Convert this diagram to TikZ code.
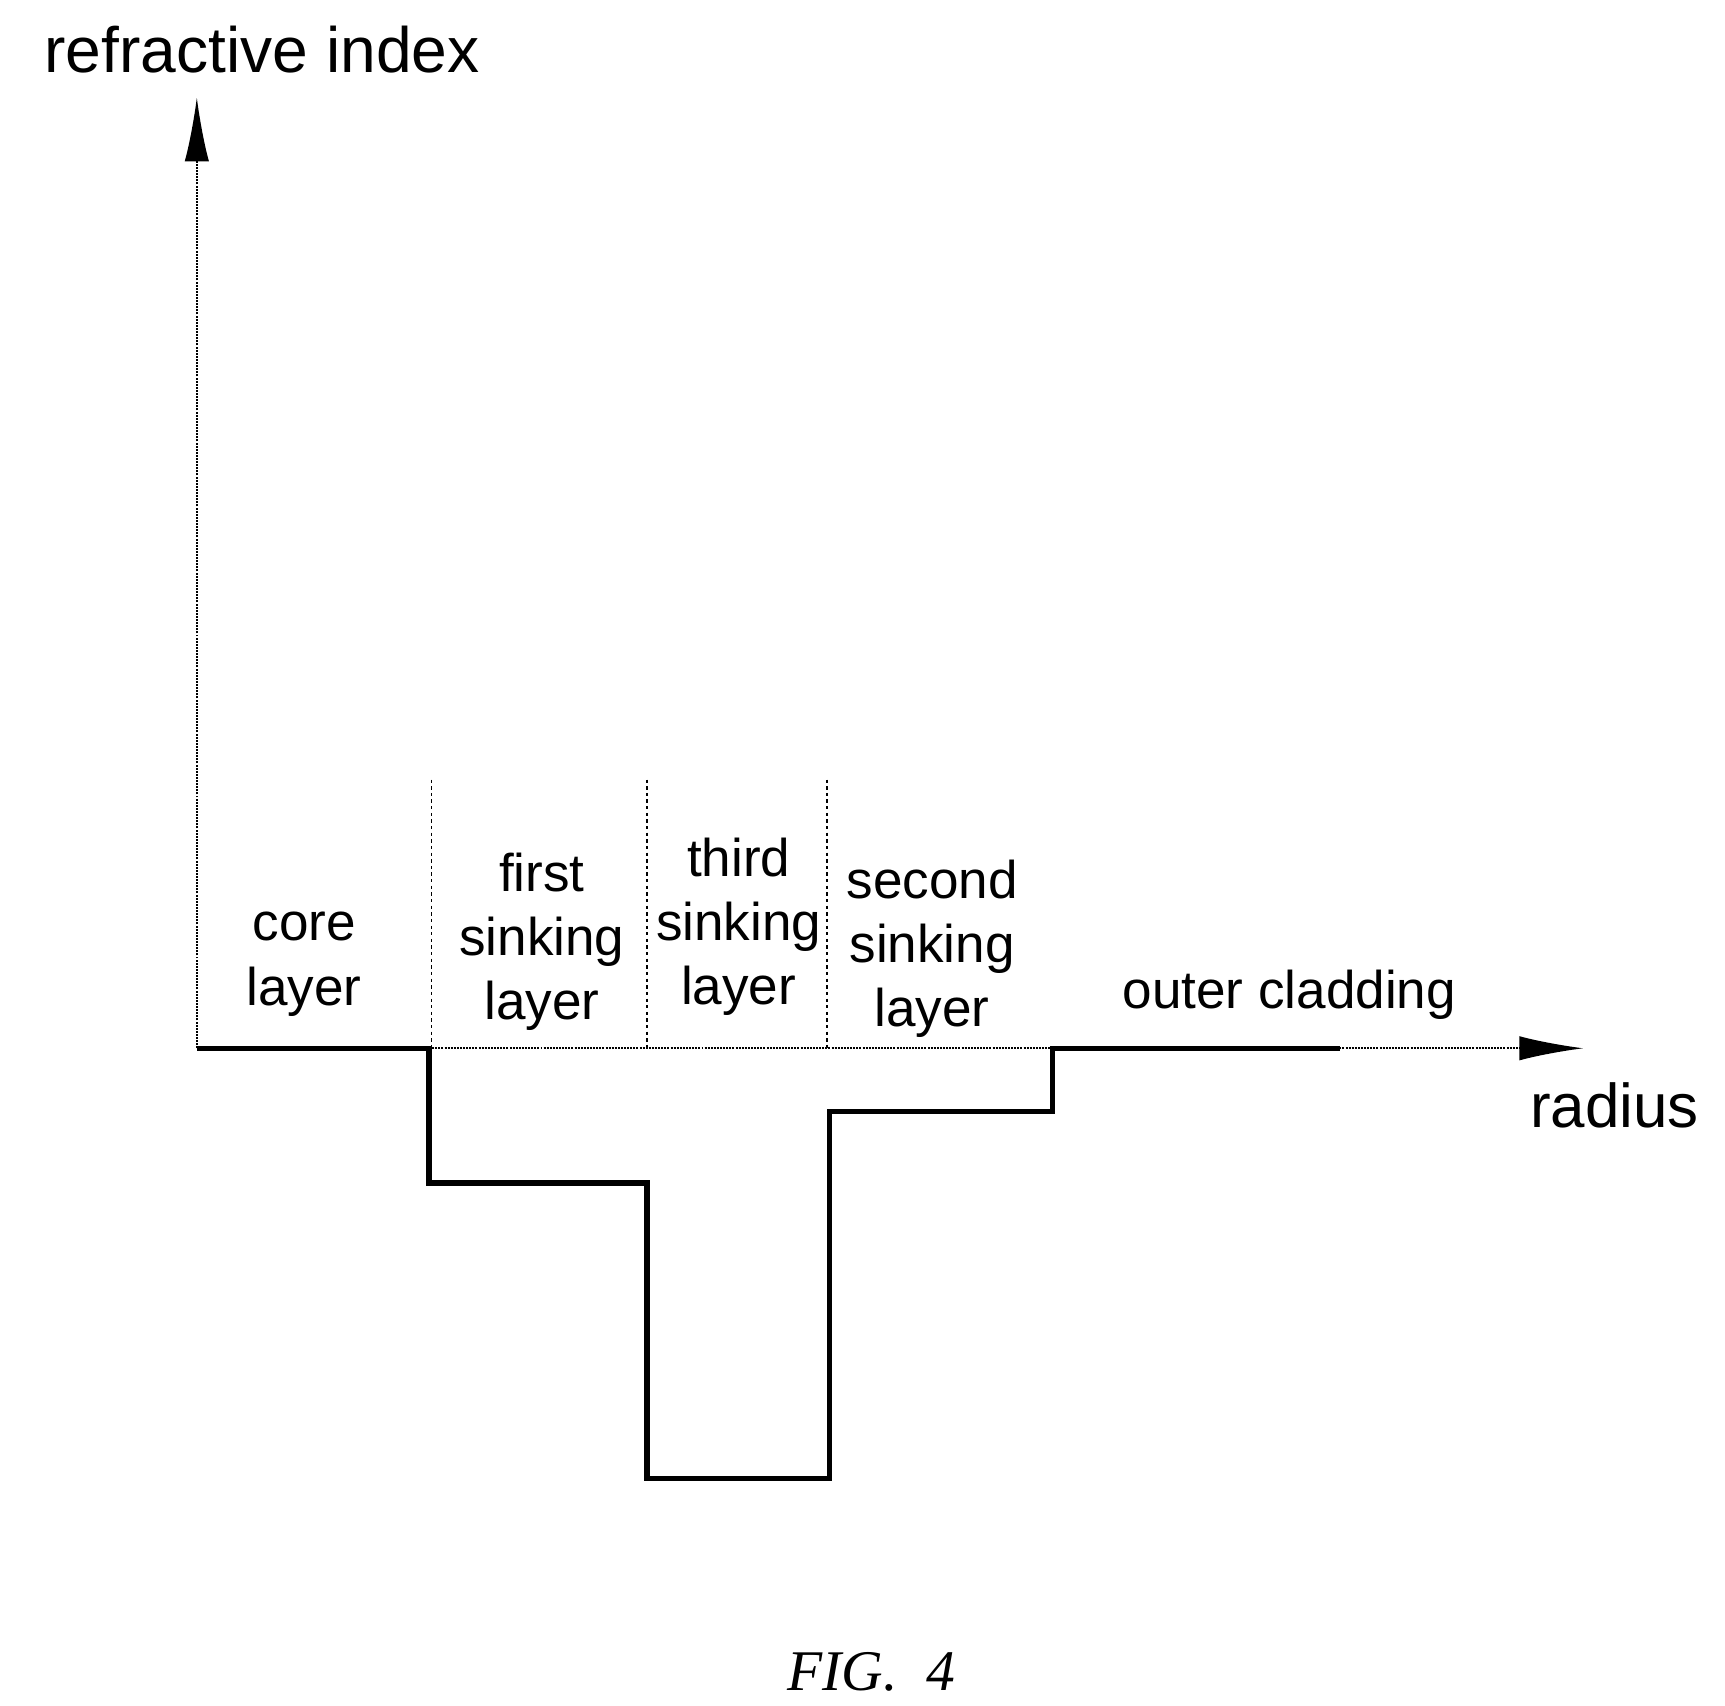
\documentclass[tikz,border=0pt]{standalone}
\usepackage{fontspec}
\setmainfont{Liberation Sans}
\newfontfamily\figfont{Liberation Serif}
\usetikzlibrary{arrows.meta}
\begin{document}
\begin{tikzpicture}[x=1pt,y=-1pt,
  axis/.style={densely dotted,line width=1.8pt,-{Latex[length=58pt,width=22pt]}},
  prof/.style={line width=5pt},
  sep/.style={dashed,line width=1.2pt},
  lbl/.style={font=\fontsize{48}{58}\selectfont,align=center,inner sep=0pt}]
\useasboundingbox (0,0) rectangle (1560,1542);
\coordinate (o) at (178,948);
\coordinate (ytop) at (178,88);
\coordinate (xend) at (1432,948);
\draw[axis] (o) -- (ytop);
\draw[axis] (o) -- (xend);
\draw[prof] (178,948)-|(388,1070)-|(585,1337)-|(750,1005)-|(952,948)--(1212,948);
\foreach \x in {390,585,748} \draw[sep] (\x,705) -- (\x,948);
\node[lbl,font=\fontsize{58}{60}\selectfont] (yl) at (237,45) {refractive index};
\node[lbl] (c) at (275,872) {core\\layer};
\node[lbl] (f) at (490,852) {first\\sinking\\layer};
\node[lbl] (t) at (668,838) {third\\sinking\\layer};
\node[lbl] (s) at (843,858) {second\\sinking\\layer};
\node[lbl] (oc) at (1166,900) {outer cladding};
\node[lbl,font=\fontsize{56}{60}\selectfont] (r) at (1460,1000) {radius};
\node[inner sep=0pt,font=\figfont\itshape\fontsize{52}{60}\selectfont] (fig) at (788,1512) {FIG.~~4};
\end{tikzpicture}
\end{document}
